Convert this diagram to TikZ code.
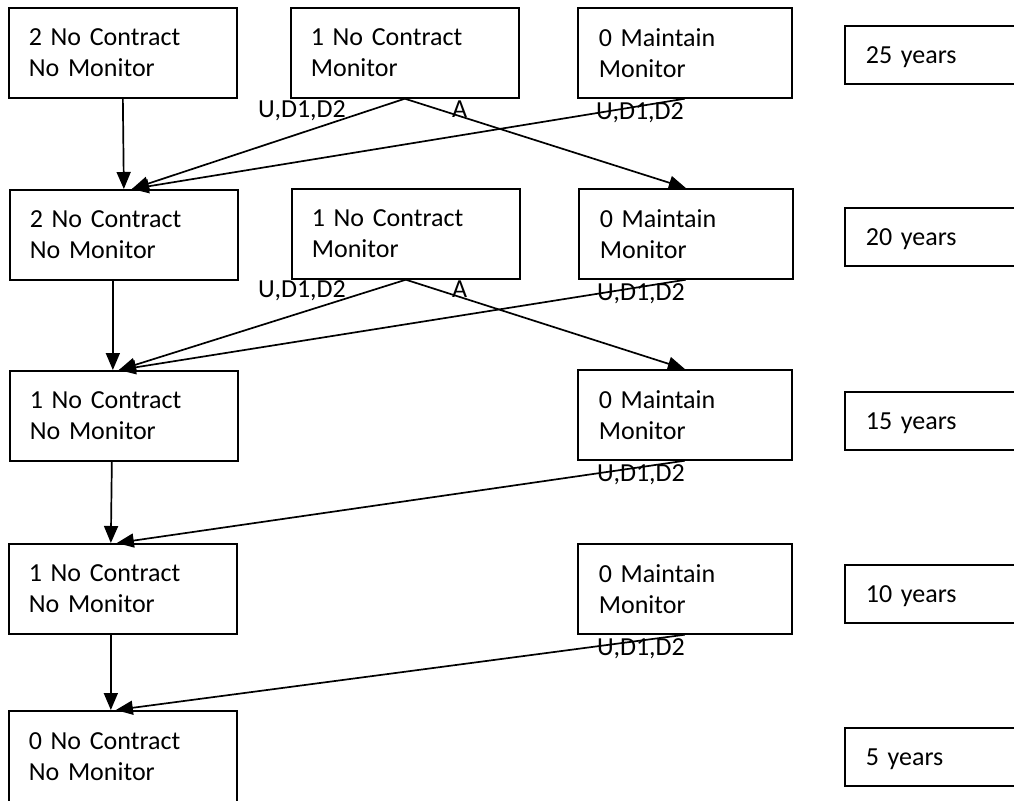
\documentclass[tikz,border=0pt]{standalone}
\usepackage{fontspec}
\setmainfont{Carlito}
\usetikzlibrary{arrows.meta}
\begin{document}
\begin{tikzpicture}[x=1pt,y=-1pt,
  txt/.style={font=\fontsize{26}{31}\selectfont},
  box/.style={txt, draw, line width=1.7pt, rectangle, anchor=north west, align=left, inner xsep=20pt, inner ysep=0pt},
  abox/.style={box, text width=188pt, minimum height=90pt},
  cbox/.style={box, text width=172pt, inner xsep=21pt, minimum height=90pt},
  ybox/.style={box, text width=160pt, inner xsep=21pt, minimum height=58pt, text depth=0pt},
  arr/.style={line width=1.7pt, -{Triangle[length=17pt,width=14pt]}},
  lbl/.style={txt, anchor=base west, inner sep=0pt}]
\useasboundingbox (0,0) rectangle (1014,800);
\clip (0,0) rectangle (1014,800);
% row 1 (25 years)
\node[abox] (A1) at (8,7) {2 No Contract\\No Monitor};
\node[abox] (B1) at (290,7) {1 No Contract\\Monitor};
\node[cbox] (C1) at (577,7) {0 Maintain\\Monitor};
\node[ybox] (Y1) at (844,25) {25 years};
% row 2 (20 years)
\node[abox] (A2) at (9,189) {2 No Contract\\No Monitor};
\node[abox] (B2) at (291,188) {1 No Contract\\Monitor};
\node[cbox] (C2) at (578,188) {0 Maintain\\Monitor};
\node[ybox] (Y2) at (844,207) {20 years};
% row 3 (15 years)
\node[abox] (A3) at (9,370) {1 No Contract\\No Monitor};
\node[cbox] (C3) at (577,369) {0 Maintain\\Monitor};
\node[ybox] (Y3) at (844,391) {15 years};
% row 4 (10 years)
\node[abox] (A4) at (8,543) {1 No Contract\\No Monitor};
\node[cbox] (C4) at (577,543) {0 Maintain\\Monitor};
\node[ybox] (Y4) at (844,564) {10 years};
% row 5 (5 years)
\node[abox, minimum height=91pt] (A5) at (8,710) {0 No Contract\\No Monitor};
\node[ybox] (Y5) at (844,727) {5 years};
% connectors row 1 -> row 2
\draw[arr] (A1.south) -- (A2.north);
\draw[arr] (B1.south) -- ([xshift=8pt]A2.north);
\draw[arr] (C1.south) -- ([xshift=8pt]A2.north);
\draw[arr] (B1.south) -- (C2.north);
% row 2 -> row 3
\draw[arr] ([xshift=-11pt]A2.south) -- ([xshift=-11pt]A3.north);
\draw[arr] (B2.south) -- ([xshift=-5pt]A3.north);
\draw[arr] (C2.south) -- ([xshift=-5pt]A3.north);
\draw[arr] (B2.south) -- (C3.north);
% row 3 -> row 4
\draw[arr] ([xshift=-12pt]A3.south) -- ([xshift=-12pt]A4.north);
\draw[arr] (C3.south) -- ([xshift=-6pt]A4.north);
% row 4 -> row 5
\draw[arr] ([xshift=-12pt]A4.south) -- ([xshift=-12pt]A5.north);
\draw[arr] (C4.south) -- ([xshift=-7pt]A5.north);
% labels
\node[lbl] (L1a) at (258,117) {U,D1,D2};
\node[lbl] (L1b) at (452,117) {A};
\node[lbl] (L1c) at (596,119) {U,D1,D2};
\node[lbl] (L2a) at (258,297) {U,D1,D2};
\node[lbl] (L2b) at (452,297) {A};
\node[lbl] (L2c) at (597,300) {U,D1,D2};
\node[lbl] (L3c) at (597,481) {U,D1,D2};
\node[lbl] (L4c) at (597,655) {U,D1,D2};
\end{tikzpicture}
\end{document}
